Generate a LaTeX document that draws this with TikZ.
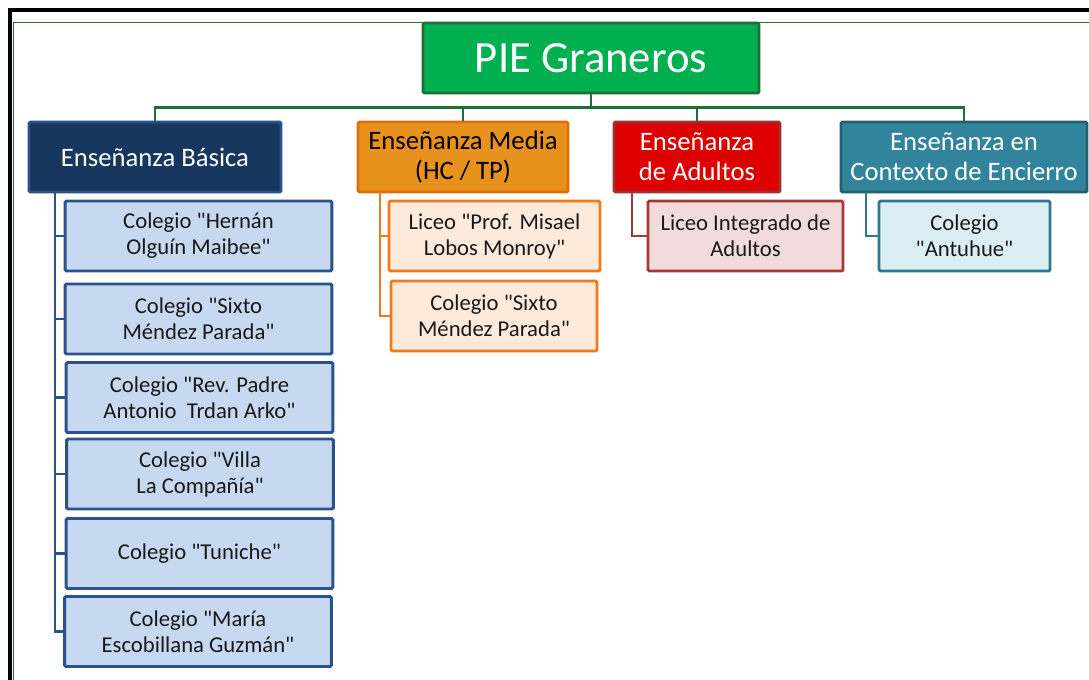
\documentclass[tikz,border=0pt]{standalone}
\usepackage{fontspec}
\setmainfont{Carlito}[Ligatures=TeXOff]
\definecolor{gfill}{HTML}{00B050}
\definecolor{gline}{HTML}{1F6E38}
\definecolor{nfill}{HTML}{17375E}
\definecolor{nline}{HTML}{2A5287}
\definecolor{bfill}{HTML}{C6D9F1}
\definecolor{bline}{HTML}{2B538A}
\definecolor{ofill}{HTML}{E8921E}
\definecolor{oline}{HTML}{E46C0A}
\definecolor{ocfill}{HTML}{FDEADA}
\definecolor{ocline}{HTML}{F07A1A}
\definecolor{rfill}{HTML}{DE0000}
\definecolor{rline}{HTML}{9B3333}
\definecolor{rcfill}{HTML}{F2DCDB}
\definecolor{rcline}{HTML}{A33A3A}
\definecolor{tfill}{HTML}{31849B}
\definecolor{tline}{HTML}{22606F}
\definecolor{tcfill}{HTML}{DBEEF4}
\definecolor{tcline}{HTML}{2E7890}
\tikzset{
  box/.style={draw, line width=2.2pt, rounded corners=1pt, align=center, inner sep=0pt, minimum height=52.5pt},
  title/.style={box, fill=gfill, draw=gline, text=white, font=\fontsize{33.5}{38}\selectfont, minimum width=252pt},
  head/.style={box, font=\fontsize{20}{22.5}\selectfont},
  child/.style={box, font=\fontsize{17}{19.5}\selectfont, text=black!90},
  bchild/.style={child, fill=bfill, draw=bline, minimum width=200pt},
  conn/.style={line width=2.2pt},
}
\begin{document}
\begin{tikzpicture}[x=0.75pt,y=-0.75pt]
\useasboundingbox (0,0) rectangle (1089,679);
\fill[white] (0,0) rectangle (1089,679);
% frame
\draw[line width=2.4pt, black] (10,680) -- (10,10) -- (1090,10);
\draw[line width=1.1pt, gline] (13.5,680) -- (13.5,22.5) -- (1090,22.5);
% title
\node[title] (t) at (591,58) {PIE Graneros};
% headers
\node[head, fill=nfill, draw=nline, text=white, minimum width=189pt] (hb) at (155,157) {Enseñanza Básica};
\node[head, fill=ofill, draw=oline, text=black, minimum width=157.5pt] (hm) at (463,157) {Enseñanza Media\\(HC / TP)};
\node[head, fill=rfill, draw=rline, text=white, minimum width=124.5pt] (ha) at (697,157) {Enseñanza\\de Adultos};
\node[head, fill=tfill, draw=tline, text=white, minimum width=184.5pt] (he) at (964,157) {Enseñanza en\\Contexto de Encierro};
% top connectors
\foreach \h in {hb,hm,ha,he}
  \draw[conn, gline] (t.south) -- ++(0,13) -| (\h.north);
% basic children
\node[bchild] (b1) at (198.5,236) {Colegio "Hernán\\Olguín Maibee"};
\node[bchild] (b2) at (198.5,319) {Colegio "Sixto\\Méndez Parada"};
\node[bchild] (b3) at (199.5,397.5) {Colegio "Rev. Padre\\Antonio\ \ Trdan Arko"};
\node[bchild] (b4) at (200,474) {Colegio "Villa\\La Compañía"};
\node[bchild] (b5) at (199.5,553.5) {Colegio "Tuniche"};
\node[bchild] (b6) at (198,631.5) {Colegio "María\\Escobillana Guzmán"};
\coordinate (bs) at (55,192);
\foreach \c in {b1,b2,b3,b4,b5,b6}
  \draw[conn, bline] (bs) |- (\c.west);
% media children
\node[child, fill=ocfill, draw=ocline, minimum width=158.25pt] (m1) at (494.5,236) {Liceo "Prof. Misael\\Lobos Monroy"};
\node[child, fill=ocfill, draw=ocline, minimum width=154.5pt] (m2) at (494,316) {Colegio "Sixto\\Méndez Parada"};
\coordinate (ms) at (380,192);
\foreach \c in {m1,m2}
  \draw[conn, ocline] (ms) |- (\c.west);
% adults child
\node[child, fill=rcfill, draw=rcline, minimum width=146.25pt] (a1) at (745.5,236) {Liceo Integrado de\\Adultos};
\coordinate (as) at (632,192);
\draw[conn, rcline] (as) |- (a1.west);
% encierro child
\node[child, fill=tcfill, draw=tcline, minimum width=128.25pt] (e1) at (964.5,236) {Colegio\\"Antuhue"};
\coordinate (es) at (866,192);
\draw[conn, tcline] (es) |- (e1.west);
\end{tikzpicture}
\end{document}
